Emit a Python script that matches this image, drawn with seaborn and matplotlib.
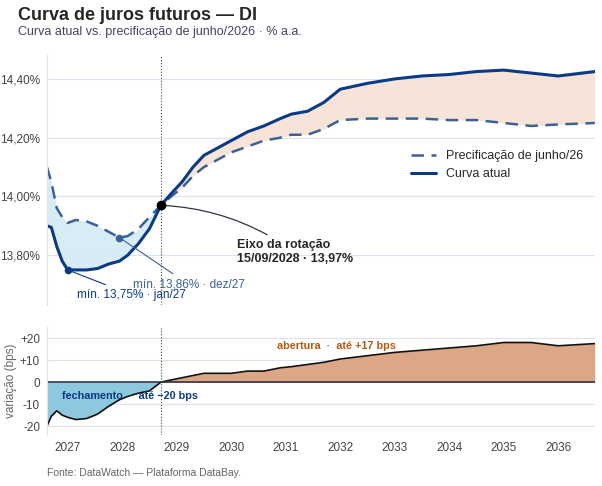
import numpy as np
import pandas as pd
import seaborn as sns
import matplotlib.pyplot as plt

anos = [2026.62, 2026.70, 2026.80, 2026.90, 2027.00, 2027.15, 2027.35, 2027.55, 2027.75, 2027.95,
        2028.10, 2028.30, 2028.50, 2028.71, 2028.90, 2029.10, 2029.30, 2029.50, 2029.80, 2030.00,
        2030.30, 2030.60, 2030.90, 2031.10, 2031.40, 2031.70, 2032.00, 2032.50, 2033.00, 2033.50,
        2034.00, 2034.50, 2035.00, 2035.50, 2036.00, 2036.67]
curva_atual = [13.90, 13.895, 13.83, 13.78, 13.75, 13.75, 13.75, 13.755, 13.77, 13.78,
               13.80, 13.84, 13.89, 13.97, 14.01, 14.05, 14.10, 14.14, 14.17, 14.19,
               14.22, 14.24, 14.265, 14.28, 14.29, 14.32, 14.365, 14.385, 14.40, 14.41,
               14.415, 14.425, 14.43, 14.42, 14.41, 14.425]
precificacao = [14.10, 14.05, 13.96, 13.93, 13.91, 13.92, 13.915, 13.90, 13.88, 13.86,
                13.865, 13.89, 13.93, 13.97, 14.00, 14.03, 14.07, 14.10, 14.13, 14.15,
                14.17, 14.19, 14.20, 14.21, 14.21, 14.23, 14.26, 14.265, 14.265, 14.265,
                14.26, 14.26, 14.25, 14.24, 14.245, 14.25]
eixo = (2028.71, 13.97)
anos_ticks = list(range(2027, 2037))

df = pd.DataFrame({"ano": anos, "atual": curva_atual, "prec": precificacao})
df["spread"] = (df["atual"] - df["prec"]) * 100

azul = "#0b3a86"
azul_trac = "#3b6296"

sns.set_style("white")
plt.rcParams['font.family'] = ['Liberation Sans', 'DejaVu Sans']

fig = plt.figure(figsize=(6.02, 4.86), dpi=100)
ax = fig.add_axes([0.078, 0.372, 0.910, 0.514])
ax2 = fig.add_axes([0.078, 0.105, 0.910, 0.222])

x = df["ano"].values
ax.fill_between(x, df["atual"], df["prec"], where=df["atual"] <= df["prec"], color="#d3eaf4", alpha=0.9, interpolate=True, lw=0)
ax.fill_between(x, df["atual"], df["prec"], where=df["atual"] >= df["prec"], color="#f5e1d4", alpha=0.9, interpolate=True, lw=0)
sns.lineplot(data=df, x="ano", y="prec", ax=ax, color=azul_trac, lw=1.8, linestyle=(0, (5, 3)), label="Precificação de junho/26")
sns.lineplot(data=df, x="ano", y="atual", ax=ax, color=azul, lw=2.2, label="Curva atual")
ax.axvline(eixo[0], color="#444444", lw=0.8, linestyle=":")
ax.plot(*eixo, "o", color="black", ms=6, zorder=5)
ax.plot(2027.0, 13.75, "o", color=azul, ms=4.5, zorder=5)
ax.plot(2027.95, 13.86, "o", color=azul_trac, ms=4.5, zorder=5)
ax.annotate("Eixo da rotação\n15/09/2028 · 13,97%", xy=eixo, xytext=(2030.1, 13.81),
            fontsize=9, fontweight="bold", va="center",
            arrowprops=dict(arrowstyle="-", color="#333344", lw=0.9, connectionstyle="arc3,rad=0.15"))
ax.annotate("mín. 13,86% · dez/27", xy=(2027.95, 13.86), xytext=(2028.2, 13.70),
            fontsize=8.5, color=azul_trac, va="center",
            arrowprops=dict(arrowstyle="-", color=azul_trac, lw=0.8))
ax.annotate("mín. 13,75% · jan/27", xy=(2027.0, 13.75), xytext=(2027.18, 13.665),
            fontsize=8.5, color=azul, va="center",
            arrowprops=dict(arrowstyle="-", color=azul, lw=0.8))

ax.set_xlim(2026.62, 2036.67)
ax.set_ylim(13.63, 14.48)
ax.set_yticks([13.8, 14.0, 14.2, 14.4])
ax.set_yticklabels(["13,80%", "14,00%", "14,20%", "14,40%"], fontsize=8.5, color="#444444")
ax.set_xticks(anos_ticks)
ax.set_xticklabels([])
ax.grid(axis="y", color="#dde3ee", lw=0.8)
ax.set_xlabel("")
ax.set_ylabel("")
for s in ["top", "right", "bottom"]:
    ax.spines[s].set_visible(False)
ax.spines["left"].set_color("#dde3ee")
ax.tick_params(axis="both", length=3, pad=2, color="#888888")
ax.legend(loc="center right", bbox_to_anchor=(1.0, 0.56), frameon=False, fontsize=9)

s = df["spread"].values
ax2.fill_between(x, s, 0, where=s <= 0, color="#8ec8df", interpolate=True, lw=0)
ax2.fill_between(x, s, 0, where=s >= 0, color="#dca786", interpolate=True, lw=0)
sns.lineplot(data=df, x="ano", y="spread", ax=ax2, color="#111111", lw=1.2)
ax2.axhline(0, color="#333344", lw=1.2)
ax2.axvline(eixo[0], color="#444444", lw=0.8, linestyle=":")
ax2.text(2028.15, -6.5, "fechamento  ·  até −20 bps", fontsize=7.8, fontweight="bold", color="#0b3a86", ha="center", va="center")
ax2.text(2031.93, 16.5, "abertura  ·  até +17 bps", fontsize=7.8, fontweight="bold", color="#b85a0e", ha="center", va="center")
ax2.set_xlim(2026.62, 2036.67)
ax2.set_ylim(-24, 25)
ax2.set_yticks([-20, -10, 0, 10, 20])
ax2.set_yticklabels(["-20", "-10", "0", "+10", "+20"], fontsize=8.5, color="#444444")
ax2.set_xticks(anos_ticks)
ax2.set_xticklabels([str(a) for a in anos_ticks], fontsize=8.5, color="#444444")
ax2.grid(axis="y", color="#dde3ee", lw=0.8)
ax2.set_xlabel("")
ax2.set_ylabel("variação (bps)", fontsize=8.5, color="#666666", labelpad=2)
for sp in ["top", "right", "bottom"]:
    ax2.spines[sp].set_visible(False)
ax2.spines["left"].set_color("#dde3ee")
ax2.tick_params(axis="both", length=3, pad=2, color="#888888")

fig.text(0.03, 0.968, "Curva de juros futuros — DI", fontsize=13, fontweight="bold", va="center")
fig.text(0.03, 0.935, "Curva atual vs. precificação de junho/2026 · % a.a.", fontsize=9, color="#444466", va="center")
fig.text(0.078, 0.027, "Fonte: DataWatch — Plataforma DataBay.", fontsize=7.5, color="#666666", va="center")

fig.savefig("out.png", dpi=100)
